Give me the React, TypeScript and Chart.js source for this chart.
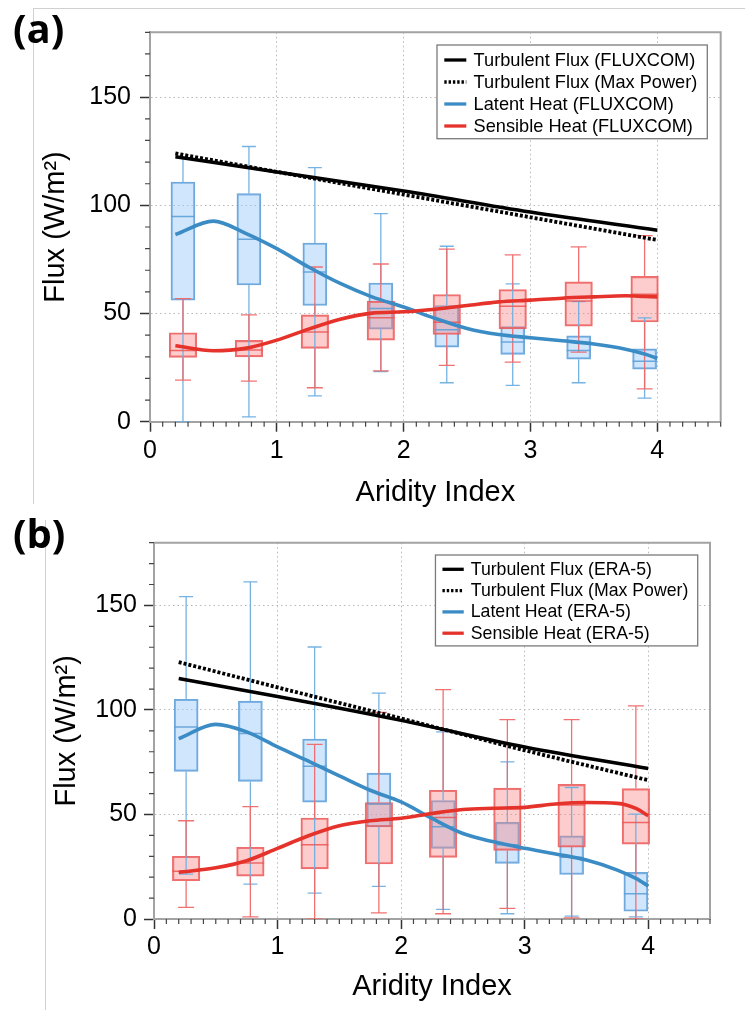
import React, { useEffect, useRef } from 'react';
import { Chart, registerables } from 'chart.js';

Chart.register(...registerables);

const FONT = "'Liberation Sans', Arial, Helvetica, sans-serif";
Chart.defaults.font.family = FONT;

// ---------- shared axes ----------
const boxX = [0.26, 0.78, 1.3, 1.82, 2.34, 2.86, 3.38, 3.9];
const yMajorTicks = [0, 50, 100, 150];
const xMajorTicks = [0, 1, 2, 3, 4];
const curveX = [0.2, 0.5, 0.75, 1, 1.25, 1.5, 1.75, 2, 2.25, 2.5, 2.75, 3, 3.25, 3.5, 3.75, 3.9, 4];
const fluxX = [0.2, 1, 2, 3, 4];

// ---------- panel (a) FLUXCOM ----------
const aLatentMin = [0, 2.2, 11.9, 23.2, 18.0, 16.8, 18.0, 10.9];
const aLatentQ1 = [56.2, 63.2, 53.7, 42.8, 34.5, 31.1, 28.9, 24.3];
const aLatentMedian = [94.8, 84.3, 69.2, 52.3, 42.5, 36.8, 32.9, 28.0];
const aLatentQ3 = [110.8, 105.4, 82.6, 64.1, 53.7, 44.0, 39.7, 33.7];
const aLatentMax = [122.0, 127.2, 117.4, 96.2, 81.1, 63.7, 55.5, 48.0];
const aSensibleMin = [19.2, 18.8, 15.7, 23.5, 26.0, 27.5, 32.2, 15.2];
const aSensibleQ1 = [29.7, 30.0, 33.9, 37.7, 40.3, 42.9, 44.2, 46.1];
const aSensibleMedian = [32.9, 33.1, 41.5, 48.0, 46.0, 53.4, 55.8, 58.9];
const aSensibleQ3 = [41.1, 37.6, 49.4, 55.7, 58.8, 61.1, 64.6, 67.2];
const aSensibleMax = [56.9, 49.4, 71.5, 72.9, 79.8, 77.1, 80.8, 86.0];
const aLatentCurve = [86.5, 92.7, 87.2, 80.0, 71.5, 63.9, 57.7, 53.0, 47.7, 43.1, 40.3, 38.8, 37.4, 35.9, 33.5, 31.3, 29.3];
const aSensibleCurve = [35.1, 32.8, 33.9, 37.7, 42.8, 47.4, 50.2, 50.8, 52.0, 53.7, 55.4, 56.2, 57.1, 57.7, 58.2, 57.9, 57.7];
const aTurbulentFlux = [122.5, 115.4, 106.6, 96.9, 88.5];
const aMaxPowerFlux = [124.0, 115.5, 105.0, 94.5, 84.0];
const aLegendLabels = ['Turbulent Flux (FLUXCOM)', 'Turbulent Flux (Max Power)', 'Latent Heat (FLUXCOM)', 'Sensible Heat (FLUXCOM)'];

// ---------- panel (b) ERA-5 ----------
const bLatentMin = [21.5, 16.7, 12.4, 15.6, 4.6, 2.5, 1.4, 1.0];
const bLatentQ1 = [70.6, 65.8, 55.9, 44.0, 33.8, 26.6, 21.3, 3.7];
const bLatentMedian = [91.9, 88.7, 73.1, 55.0, 44.1, 35.5, 29.5, 12.1];
const bLatentQ3 = [105.1, 104.2, 86.1, 69.8, 56.7, 46.2, 39.8, 22.3];
const bLatentMax = [154.2, 161.3, 130.1, 108.0, 89.5, 75.2, 62.9, 50.2];
const bSensibleMin = [5.6, 1.0, 0.0, 2.9, 2.5, 5.1, 0.5, 0.0];
const bSensibleQ1 = [18.3, 20.5, 24.0, 26.3, 29.5, 32.8, 34.4, 35.8];
const bSensibleMedian = [22.8, 26.8, 35.5, 44.5, 48.5, 53.2, 54.5, 46.2];
const bSensibleQ3 = [30.0, 34.3, 48.3, 55.7, 61.6, 62.6, 64.4, 62.4];
const bSensibleMax = [47.0, 53.8, 83.5, 98.8, 109.7, 95.4, 95.4, 101.9];
const bLatentCurve = [86.3, 93.1, 89.5, 82.3, 75.5, 68.5, 61.6, 56.0, 48.1, 40.9, 36.9, 33.8, 31.1, 28.2, 23.4, 19.4, 15.8];
const bSensibleCurve = [22.3, 24.5, 27.9, 33.8, 39.8, 44.6, 47.0, 48.2, 50.5, 52.4, 53.0, 53.4, 55.0, 55.7, 55.3, 52.9, 49.4];
const bTurbulentFlux = [115.0, 106.4, 95.0, 82.3, 72.0];
const bMaxPowerFlux = [122.9, 110.8, 95.9, 80.7, 66.4];
const bLegendLabels = ['Turbulent Flux (ERA-5)', 'Turbulent Flux (Max Power)', 'Latent Heat (ERA-5)', 'Sensible Heat (ERA-5)'];

// ---------- styles ----------
const BLUE_LINE = '#3b8cc5';
const RED_LINE = '#e5322a';
const BLUE_STYLE = { fill: 'rgba(150, 200, 250, 0.45)', edge: 'rgba(95, 160, 215, 0.9)', whisker: 'rgba(110, 175, 225, 0.95)', width: 24, cap: 7 };
const RED_STYLE = { fill: 'rgba(250, 130, 130, 0.4)', edge: 'rgba(235, 85, 85, 0.85)', whisker: 'rgba(240, 105, 105, 0.95)', width: 27.5, cap: 8 };
const MAXP_DASH = [3, 2];

function pts(xs: number[], ys: number[]) {
  return xs.map((x, i) => ({ x, y: ys[i] }));
}

function boxSets(stats: number[][], style: any) {
  const [mins, q1s, meds, q3s, maxs] = stats;
  const whisker: any[] = [];
  boxX.forEach((x, i) => {
    whisker.push({ x, y: mins[i] }, { x, y: q1s[i] }, { x, y: null }, { x, y: q3s[i] }, { x, y: maxs[i] }, { x, y: null });
  });
  return [
    {
      type: 'bar',
      data: boxX.map((x, i) => ({ x, y: [q1s[i], q3s[i]] })),
      backgroundColor: style.fill,
      borderColor: style.edge,
      borderWidth: 1.5,
      borderSkipped: false,
      barThickness: style.width,
      grouped: false,
      order: 6,
    },
    {
      type: 'line',
      data: whisker,
      showLine: true,
      spanGaps: false,
      tension: 0,
      borderColor: style.whisker,
      borderWidth: 1.3,
      pointStyle: 'line',
      pointRadius: (c: any) => (c.dataIndex % 6 === 0 || c.dataIndex % 6 === 4 ? style.cap : 0),
      pointBorderColor: style.whisker,
      pointBorderWidth: 1.3,
      order: 5,
    },
    {
      type: 'line',
      data: pts(boxX, meds),
      showLine: false,
      pointStyle: 'line',
      pointRadius: style.width / 2,
      pointBorderColor: style.edge,
      pointBorderWidth: 1.5,
      order: 4,
    },
  ];
}

const decorPlugin = {
  id: 'panelDecor',
  afterDraw(chart: any, _args: any, opts: any) {
    const { ctx, chartArea: ca, scales } = chart;
    const xs = scales.x;
    const ys = scales.y;
    ctx.save();
    // top & right frame
    ctx.strokeStyle = '#a3a3a3';
    ctx.lineWidth = 2;
    ctx.beginPath();
    ctx.moveTo(ca.left, ca.top);
    ctx.lineTo(ca.right, ca.top);
    ctx.lineTo(ca.right, ca.bottom);
    ctx.stroke();
    // minor ticks
    ctx.strokeStyle = '#444';
    ctx.lineWidth = 1.2;
    ctx.beginPath();
    for (let k = 0; k <= 18; k++) {
      if (k % 5 === 0) continue;
      const py = ys.getPixelForValue(k * 10);
      ctx.moveTo(ca.left - 5, py);
      ctx.lineTo(ca.left, py);
    }
    for (let k = 1; k <= 45; k++) {
      if (k % 10 === 0) continue;
      const px = xs.getPixelForValue(k / 10);
      ctx.moveTo(px, ca.bottom);
      ctx.lineTo(px, ca.bottom + 5);
    }
    ctx.stroke();
    // legend box
    const L = opts.legend;
    ctx.font = `${L.fontSize}px ${FONT}`;
    const textW = Math.max(...L.items.map((it: any) => ctx.measureText(it.label).width));
    const boxW = L.padLeft + L.sample + L.gap + textW + L.padRight;
    const boxH = L.firstRow + (L.items.length - 1) * L.rowH + L.lastPad;
    const bx = ca.right - L.marginRight - boxW;
    const by = ca.top + L.marginTop;
    ctx.fillStyle = '#fff';
    ctx.fillRect(bx, by, boxW, boxH);
    ctx.strokeStyle = '#7a7a7a';
    ctx.lineWidth = 1.3;
    ctx.strokeRect(bx, by, boxW, boxH);
    L.items.forEach((it: any, i: number) => {
      const cy = by + L.firstRow + i * L.rowH;
      ctx.setLineDash(it.dash || []);
      ctx.strokeStyle = it.color;
      ctx.lineWidth = 3.3;
      ctx.beginPath();
      ctx.moveTo(bx + L.padLeft, cy);
      ctx.lineTo(bx + L.padLeft + L.sample, cy);
      ctx.stroke();
      ctx.setLineDash([]);
      ctx.fillStyle = '#000';
      ctx.textBaseline = 'middle';
      ctx.textAlign = 'left';
      ctx.fillText(it.label, bx + L.padLeft + L.sample + L.gap, cy + 0.5);
    });
    ctx.restore();
  },
};

function buildConfig(p: any) {
  const L = p.layout;
  const datasets = [
    {
      type: 'line',
      data: pts(fluxX, p.maxPower),
      borderColor: '#000',
      borderWidth: 3.8,
      borderDash: MAXP_DASH,
      pointRadius: 0,
      cubicInterpolationMode: 'monotone',
      order: 0,
    },
    {
      type: 'line',
      data: pts(fluxX, p.turbulent),
      borderColor: '#000',
      borderWidth: 3.5,
      pointRadius: 0,
      cubicInterpolationMode: 'monotone',
      order: 1,
    },
    {
      type: 'line',
      data: pts(curveX, p.sensibleCurve),
      borderColor: RED_LINE,
      borderWidth: 3.6,
      pointRadius: 0,
      cubicInterpolationMode: 'monotone',
      order: 2,
    },
    {
      type: 'line',
      data: pts(curveX, p.latentCurve),
      borderColor: BLUE_LINE,
      borderWidth: 3.6,
      pointRadius: 0,
      cubicInterpolationMode: 'monotone',
      order: 2,
    },
    ...boxSets(p.sensible, RED_STYLE),
    ...boxSets(p.latent, BLUE_STYLE),
  ];
  const gridColor = (c: any) => (c.tick && c.tick.value > 0 ? '#b8b8b8' : 'rgba(0,0,0,0)');
  return {
    type: 'line',
    data: { datasets },
    options: {
      responsive: false,
      animation: false,
      devicePixelRatio: 1,
      events: [],
      layout: { padding: { top: L.padTop, right: L.padRight, left: 0, bottom: 0 } },
      plugins: {
        legend: { display: false },
        tooltip: { enabled: false },
        panelDecor: {
          legend: {
            ...L.legend,
            items: [
              { label: p.labels[0], color: '#000', dash: [] },
              { label: p.labels[1], color: '#000', dash: [2.4, 1.9] },
              { label: p.labels[2], color: BLUE_LINE, dash: [] },
              { label: p.labels[3], color: RED_LINE, dash: [] },
            ],
          },
        },
      },
      scales: {
        x: {
          type: 'linear',
          min: 0,
          max: 4.5,
          offset: false,
          afterBuildTicks: (s: any) => {
            s.ticks = xMajorTicks.map((v) => ({ value: v }));
          },
          afterFit: (s: any) => {
            s.height = L.xAxisHeight;
          },
          ticks: { font: { size: 25, family: FONT }, color: '#000', padding: L.xTickPad, maxRotation: 0, autoSkip: false },
          grid: { color: gridColor, lineWidth: 1, tickLength: 10, tickColor: '#333', tickWidth: 1.5, offset: false },
          border: { display: true, color: '#a3a3a3', width: 2, dash: [1.5, 3] },
          title: { display: true, text: 'Aridity Index', font: { size: 29, family: FONT }, color: '#000', padding: { top: 0, bottom: L.xTitlePad } },
        },
        y: {
          type: 'linear',
          min: 0,
          max: 180,
          afterBuildTicks: (s: any) => {
            s.ticks = yMajorTicks.map((v) => ({ value: v }));
          },
          afterFit: (s: any) => {
            s.width = L.yAxisWidth;
          },
          ticks: { font: { size: 25, family: FONT }, color: '#000', padding: L.yTickPad },
          grid: { color: gridColor, lineWidth: 1, tickLength: 10, tickColor: '#333', tickWidth: 1.5 },
          border: { display: true, color: '#a3a3a3', width: 2, dash: [1.5, 3] },
          title: { display: true, text: 'Flux (W/m²)', font: { size: 29, family: FONT }, color: '#000', padding: { top: L.yTitlePad, bottom: 0 } },
        },
      },
    },
    plugins: [decorPlugin],
  };
}

const panelA = {
  latent: [aLatentMin, aLatentQ1, aLatentMedian, aLatentQ3, aLatentMax],
  sensible: [aSensibleMin, aSensibleQ1, aSensibleMedian, aSensibleQ3, aSensibleMax],
  latentCurve: aLatentCurve,
  sensibleCurve: aSensibleCurve,
  turbulent: aTurbulentFlux,
  maxPower: aMaxPowerFlux,
  labels: aLegendLabels,
  layout: {
    padTop: 32.3,
    padRight: 24.3,
    yAxisWidth: 150,
    xAxisHeight: 88.3,
    yTitlePad: 38.6,
    xTitlePad: 0,
    yTickPad: 9,
    xTickPad: 4,
    legend: { fontSize: 18.2, padLeft: 7.3, sample: 22, gap: 7.3, padRight: 10, marginRight: 13.4, marginTop: 12.7, firstRow: 15, rowH: 22, lastPad: 12.7 },
  },
};

const panelB = {
  latent: [bLatentMin, bLatentQ1, bLatentMedian, bLatentQ3, bLatentMax],
  sensible: [bSensibleMin, bSensibleQ1, bSensibleMedian, bSensibleQ3, bSensibleMax],
  latentCurve: bLatentCurve,
  sensibleCurve: bSensibleCurve,
  turbulent: bTurbulentFlux,
  maxPower: bMaxPowerFlux,
  labels: bLegendLabels,
  layout: {
    padTop: 32.7,
    padRight: 35,
    yAxisWidth: 154,
    xAxisHeight: 91,
    yTitlePad: 49.6,
    xTitlePad: 5.6,
    yTickPad: 7,
    xTickPad: 2.7,
    legend: { fontSize: 17.7, padLeft: 7, sample: 21.3, gap: 7, padRight: 9.4, marginRight: 12.3, marginTop: 12.3, firstRow: 14.3, rowH: 21.3, lastPad: 12.7 },
  },
};

function ChartPanel({ top, height, spec }: { top: number; height: number; spec: any }) {
  const ref = useRef<HTMLCanvasElement>(null);
  useEffect(() => {
    const chart = new Chart(ref.current as HTMLCanvasElement, buildConfig(spec) as any);
    return () => chart.destroy();
  }, [spec]);
  return (
    <canvas
      ref={ref}
      width={745}
      height={height}
      style={{ position: 'absolute', left: 0, top, width: 745, height, display: 'block' }}
    />
  );
}

const lineStyle = (left: number, top: number, width: number, height: number): React.CSSProperties => ({
  position: 'absolute',
  left,
  top,
  width,
  height,
  background: '#d0d0d0',
});

const panelLabel = (top: number): React.CSSProperties => ({
  position: 'absolute',
  left: 13,
  top,
  font: "700 40px 'Open Sans', 'DejaVu Sans', sans-serif",
  lineHeight: '40px',
  color: '#000',
  whiteSpace: 'nowrap',
});

export default function App() {
  return (
    <div style={{ position: 'absolute', left: 0, top: 0, width: 745, height: 1010, background: '#fff', overflow: 'hidden' }}>
      <div style={lineStyle(33, 8, 712, 1)} />
      <div style={lineStyle(33, 8, 1, 496)} />
      <div style={lineStyle(45, 520, 1, 490)} />
      <ChartPanel top={0} height={510} spec={panelA} />
      <ChartPanel top={510} height={500} spec={panelB} />
      <div style={panelLabel(8)}>(a)</div>
      <div style={panelLabel(513)}>(b)</div>
    </div>
  );
}
